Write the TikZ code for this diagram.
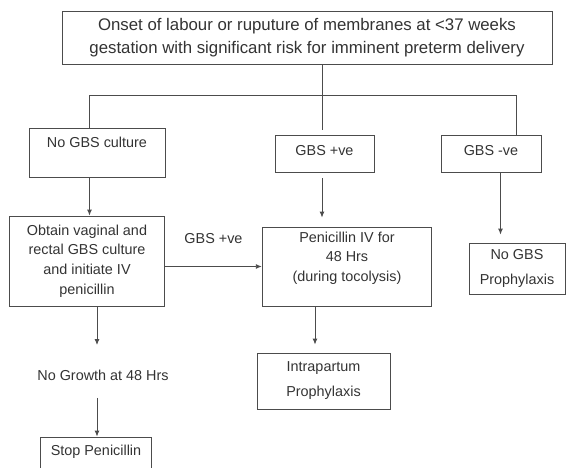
\documentclass[tikz,border=0pt]{standalone}
\usepackage{fontspec}
\setmainfont{Liberation Sans}
\usetikzlibrary{arrows.meta}

\begin{document}
\begin{tikzpicture}[x=1pt,y=-1pt,
  box/.style={draw=black!70,line width=0.9pt,text=black!80,align=center,inner sep=0pt,
    font=\fontsize{14.4}{19.7}\selectfont},
  wide/.style={box,font=\fontsize{14.4}{25}\selectfont},
  link/.style={draw=black!70,line width=0.9pt},
  arr/.style={link,-{Latex[length=6pt,width=5pt]}},
  plain/.style={text=black!80,inner sep=0pt,font=\fontsize{14.4}{19.7}\selectfont}]
\useasboundingbox (0,0) rectangle (566,467);
% boxes
\node[box,minimum width=490pt,minimum height=53pt,font=\fontsize{16.8}{23}\selectfont] (onset) at (307,37.5)
  {Onset of labour or ruputure of membranes at <37 weeks\\gestation with significant risk for imminent preterm delivery};
\node[box,minimum width=136pt,text height=19pt,text depth=30pt] (noculture) at (97,152.5) {No GBS culture};
\node[box,minimum width=99pt,text height=20pt,text depth=17pt] (gbspos) at (324.5,153.5) {GBS +ve};
\node[box,minimum width=100pt,text height=20pt,text depth=17pt] (gbsneg) at (491,153.5) {GBS -ve};
\node[box,minimum width=155.5pt,minimum height=90pt] (obtain) at (87,261)
  {Obtain vaginal and\\rectal GBS culture\\and initiate IV\\penicillin};
\node[box,minimum width=169.5pt,minimum height=79pt] (penicillin) at (347,266.5)
  {Penicillin IV for\\48 Hrs\\(during tocolysis)\\\mbox{}};
\node[wide,minimum width=96pt,minimum height=51pt] (noprophy) at (517,268.5) {No GBS\\Prophylaxis};
\node[plain] (nogrowth) at (103,375) {No Growth at 48 Hrs};
\node[wide,minimum width=133pt,minimum height=56pt] (intrapartum) at (323.5,381) {Intrapartum\\Prophylaxis};
\node[box,minimum width=111pt,text height=18pt,text depth=19pt] (stop) at (96,455.5) {Stop Penicillin};
% branch points
\coordinate (split) at (322,95);
\coordinate (branchL) at (89.5,95);
\coordinate (branchR) at (516,95);
\coordinate (dropL) at (97,0);
\coordinate (dropM) at (315,0);
\coordinate (dropR) at (500.5,0);
% connectors
\draw[link] (onset.south -| split) -- (split);
\draw[link,shorten >=5pt] (split) -- (gbspos.north -| split);
\draw[link] (noculture.north -| branchL) -- (branchL) -- (branchR) -- (gbsneg.north -| branchR);
\draw[arr] (noculture.south -| branchL) -- (obtain.north -| branchL);
\draw[arr,shorten <=6pt,shorten >=9pt] (gbspos.south -| split) -- (penicillin.north -| split);
\draw[arr,shorten >=8pt] (gbsneg.south -| dropR) -- (noprophy.north -| dropR);
\draw[arr] (obtain.east |- penicillin) -- (penicillin.west)
  node[plain,midway,yshift=28pt] (poslabel) {GBS +ve};
\draw[arr,shorten >=8pt] (penicillin.south -| dropM) -- (intrapartum.north -| dropM);
\draw[arr,shorten >=24.5pt] (obtain.south -| dropL) -- (nogrowth.north -| dropL);
\draw[arr,shorten <=17.5pt] (nogrowth.south -| dropL) -- (stop.north -| dropL);
\end{tikzpicture}
\end{document}
